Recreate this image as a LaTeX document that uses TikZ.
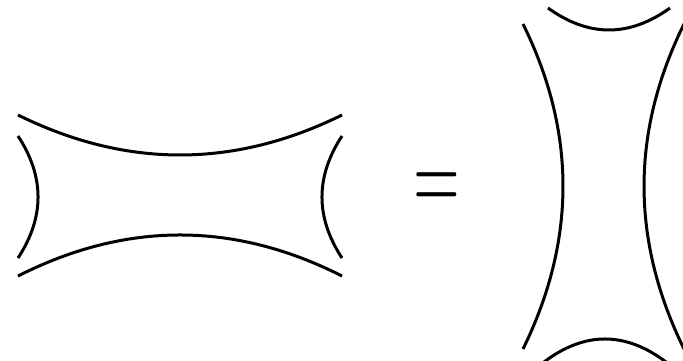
\documentclass[tikz,border=0pt]{standalone}
\usepackage{amsmath,amssymb}
\usepackage{tikz}
\usetikzlibrary{calc,positioning}
\tikzset{
  strand/.style={line width=1.5pt, line cap=butt},
  eqsign/.style={inner sep=0pt, font=\normalsize}
}

\begin{document}
\begin{tikzpicture}[x=0.5pt,y=-0.5pt]
  \useasboundingbox (0,0) rectangle (683,360);
  \clip (0,0) rectangle (683,360);
  % left picture: horizontal channel
  \draw[strand] (18,115) .. controls (126,168.3) and (234,168.3) .. (342,115);
  \draw[strand] (18,276) .. controls (126,221.3) and (234,221.3) .. (342,276);
  \draw[strand] (18,136) .. controls (44.7,176.7) and (44.7,217.3) .. (18,258);
  \draw[strand] (342,136) .. controls (315.3,176.7) and (315.3,217.3) .. (342,258);
  % equals sign
  \node[eqsign] (eq) at (437,192) {\scalebox{3}[5.15]{$=$}};
  % right picture: vertical channel
  \draw[strand] (548,8) .. controls (588.7,37.3) and (629.3,37.3) .. (670,8);
  \draw[strand] (544,362) .. controls (584.7,331.3) and (625.3,331.3) .. (666,362);
  \draw[strand] (523,24) .. controls (576.3,132) and (576.3,240.3) .. (523,349);
  \draw[strand] (684,24) .. controls (630.7,132) and (630.7,240.3) .. (684,349);
\end{tikzpicture}
\end{document}
